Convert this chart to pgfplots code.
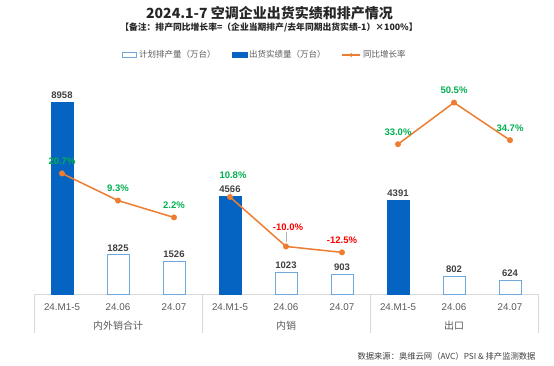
\documentclass[border=0pt]{standalone}
\usepackage{fontspec}
\setmainfont{Liberation Sans}
\newfontfamily\cjk{Noto Sans CJK SC}
\usepackage{pgfplots}
\pgfplotsset{compat=1.18}
\definecolor{barblue}{HTML}{0563C1}
\definecolor{hollowblue}{HTML}{6FA8DC}
\definecolor{lineorange}{HTML}{ED7D31}
\definecolor{posgreen}{HTML}{00B050}
\definecolor{negred}{HTML}{FF0000}
\definecolor{valgray}{HTML}{404040}
\definecolor{tickgray}{HTML}{595959}
\definecolor{sepgray}{HTML}{D9D9D9}
\begin{document}
\begin{tikzpicture}[x=1pt,y=1pt]
\path[use as bounding box] (0,0) rectangle (554,365);
\node[font=\cjk\bfseries\fontsize{14}{16}\selectfont, text=black!85] at (269.5,352.3) {2024.1-7 空调企业出货实绩和排产情况};
\node[font=\cjk\bfseries\fontsize{8.8}{10}\selectfont, text=black!85] at (269,338) {【备注：排产同比增长率=（企业当期排产/去年同期出货实绩-1）×100\%】};
\node[anchor=east, font=\cjk\fontsize{8.3}{10}\selectfont, text=valgray] at (539,9) {数据来源：奥维云网（AVC）PSI \& 排产监测数据};

\begin{axis}[
  at={(34pt,71pt)}, anchor=south west, scale only axis,
  width=504pt, height=214pt,
  xmin=-0.5, xmax=8.5, ymin=0, ymax=10000,
  axis x line=bottom, axis y line=none,
  x axis line style={sepgray, line width=0.8pt, -},
  xtick={0,...,8},
  xticklabels={24.M1-5,24.06,24.07,24.M1-5,24.06,24.07,24.M1-5,24.06,24.07},
  major tick length=0pt,
  xticklabel style={font=\fontsize{9.8}{11}\selectfont, text=tickgray, anchor=base, yshift=-16.5pt},
  clip=false,
  /pgf/number format/1000 sep={},
  /pgf/number format/assume math mode=true,
  nodes near coords style={font=\bfseries\fontsize{9.5}{11}\selectfont, text=valgray},
  legend style={draw=none, fill=none, at={(0.458,1.117)}, anchor=center,
    font=\cjk\fontsize{8.5}{10}\selectfont, text=tickgray,
    /tikz/every even column/.append style={column sep=14pt}},
  legend columns=3,
]
\addplot[ybar, bar width=22pt, bar shift=0pt, fill=white, draw=hollowblue, line width=1pt,
  nodes near coords,
  legend image code/.code={\draw[hollowblue, line width=1pt, fill=white] (0pt,-2.5pt) rectangle (14pt,2.5pt);}]
  coordinates {(1,1825)(2,1526)(4,1023)(5,903)(7,802)(8,624)};
\addlegendentry{计划排产量（万台）}
\addplot[ybar, bar width=22pt, bar shift=0pt, fill=barblue, draw=barblue,
  nodes near coords,
  legend image code/.code={\fill[barblue] (0pt,-2.5pt) rectangle (15pt,2.5pt);}]
  coordinates {(0,8958)(3,4566)(6,4391)};
\addlegendentry{出货实绩量（万台）}
\addlegendimage{legend image code/.code={\draw[lineorange,line width=1.5pt] (0pt,0pt)--(18pt,0pt); \fill[lineorange] (9pt,0pt) circle (1.6pt);}}
\addlegendentry{同比增长率}
% separators
\draw[sepgray, line width=0.8pt] (axis cs:-0.5,0) -- ([yshift=-39pt]axis cs:-0.5,0);
\draw[sepgray, line width=0.8pt] (axis cs:2.5,0) -- ([yshift=-39pt]axis cs:2.5,0);
\draw[sepgray, line width=0.8pt] (axis cs:5.5,0) -- ([yshift=-39pt]axis cs:5.5,0);
\draw[sepgray, line width=0.8pt] (axis cs:8.5,0) -- ([yshift=-39pt]axis cs:8.5,0);
\node[font=\cjk\fontsize{10}{12}\selectfont, text=tickgray, anchor=base] at (axis cs:1,0) [yshift=-35.5pt] {内外销合计};
\node[font=\cjk\fontsize{10}{12}\selectfont, text=tickgray, anchor=base] at (axis cs:4,0) [yshift=-35.5pt] {内销};
\node[font=\cjk\fontsize{10}{12}\selectfont, text=tickgray, anchor=base] at (axis cs:7,0) [yshift=-35.5pt] {出口};
\end{axis}

\begin{axis}[
  at={(34pt,71pt)}, anchor=south west, scale only axis,
  width=504pt, height=214pt,
  xmin=-0.5, xmax=8.5, ymin=-30, ymax=60,
  axis lines=none, clip=false,
]
\addplot[lineorange, line width=1.5pt, mark=*, mark size=2.2pt, mark options={fill=lineorange, draw=lineorange}]
  coordinates {(0,20.7)(1,9.3)(2,2.2)};
\addplot[lineorange, line width=1.5pt, mark=*, mark size=2.2pt, mark options={fill=lineorange, draw=lineorange}]
  coordinates {(3,10.8)(4,-10.0)(5,-12.5)};
\addplot[lineorange, line width=1.5pt, mark=*, mark size=2.2pt, mark options={fill=lineorange, draw=lineorange}]
  coordinates {(6,33.0)(7,50.5)(8,34.7)};
\tikzset{pl/.style={font=\bfseries\fontsize{9.5}{11}\selectfont, anchor=base}}
\node[pl, text=posgreen, yshift=9pt] at (axis cs:0,20.7) {20.7\%};
\node[pl, text=posgreen, yshift=9pt] at (axis cs:1,9.3) {9.3\%};
\node[pl, text=posgreen, yshift=9pt] at (axis cs:2,2.2) {2.2\%};
\node[pl, text=posgreen, yshift=18.5pt, xshift=3pt] at (axis cs:3,10.8) {10.8\%};
\draw[gray!60, line width=0.5pt] ([yshift=3pt]axis cs:3,10.8) -- ([xshift=1pt,yshift=8pt]axis cs:3,10.8);
\node[pl, text=negred, yshift=15.5pt, xshift=2pt] at (axis cs:4,-10.0) {-10.0\%};
\draw[gray!60, line width=0.5pt] ([yshift=4pt]axis cs:4,-10.0) -- ([yshift=14pt]axis cs:4,-10.0);
\node[pl, text=negred, yshift=9pt] at (axis cs:5,-12.5) {-12.5\%};
\node[pl, text=posgreen, yshift=9pt] at (axis cs:6,33.0) {33.0\%};
\node[pl, text=posgreen, yshift=9pt] at (axis cs:7,50.5) {50.5\%};
\node[pl, text=posgreen, yshift=9pt] at (axis cs:8,34.7) {34.7\%};
\end{axis}
\end{tikzpicture}
\end{document}
